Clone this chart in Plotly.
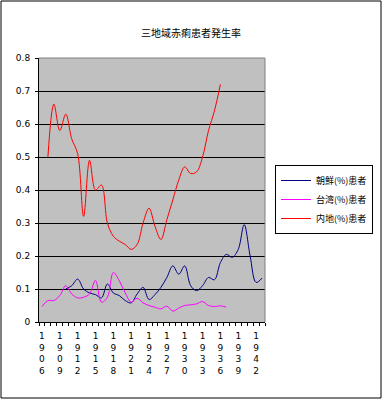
import plotly.graph_objects as go

years = [1906, 1907, 1908, 1909, 1910, 1911, 1912, 1913, 1914, 1915,
         1916, 1917, 1918, 1919, 1920, 1921, 1922, 1923, 1924, 1925,
         1926, 1927, 1928, 1929, 1930, 1931, 1932, 1933, 1934, 1935,
         1936, 1937, 1938, 1939, 1940, 1941, 1942, 1943]

korea = [None, None, None, None, 0.10, 0.11, 0.13, 0.10, 0.088, 0.083,
         0.073, 0.115, 0.088, 0.08, 0.065, 0.058, 0.085, 0.105, 0.068, 0.083,
         0.105, 0.135, 0.17, 0.145, 0.17, 0.11, 0.095, 0.11, 0.135, 0.128,
         0.18, 0.205, 0.196, 0.22, 0.295, 0.20, 0.12, 0.133]

taiwan = [0.047, 0.065, 0.065, 0.08, 0.11, 0.085, 0.073, 0.075, 0.085, 0.126,
          0.06, 0.075, 0.15, 0.125, 0.088, 0.06, 0.072, 0.058, 0.05, 0.045,
          0.04, 0.048, 0.033, 0.042, 0.05, 0.052, 0.055, 0.062, 0.05, 0.047,
          0.049, 0.045, None, None, None, None, None, None]

naichi = [None, 0.50, 0.66, 0.58, 0.63, 0.555, 0.51, 0.32, 0.49, 0.40,
          0.415, 0.30, 0.26, 0.245, 0.235, 0.22, 0.235, 0.30, 0.345, 0.29,
          0.25, 0.31, 0.37, 0.43, 0.47, 0.45, 0.455, 0.50, 0.58, 0.64,
          0.72, None, None, None, None, None, None, None]

series_names = ["朝鮮(%)患者", "台湾(%)患者", "内地(%)患者"]
series_colors = ["#000080", "#FF00FF", "#FF0000"]
label_years = years[::3]

FONT = "Noto Sans CJK JP, Noto Sans, sans-serif"

fig = go.Figure()
for name, vals, col in zip(series_names, [korea, taiwan, naichi], series_colors):
    fig.add_trace(go.Scatter(
        x=list(range(len(years))), y=vals, name=name, mode="lines",
        line=dict(color=col, width=1, shape="spline", smoothing=1),
        connectgaps=False,
    ))

W, H = 385, 404
L, R, T, B = 39, 120, 58, 82
pw, ph = W - L - R, H - T - B

def px_x(p):
    return (p - L) / pw

def px_y(p):
    return (H - B - p) / ph

fig.update_layout(
    width=W, height=H,
    margin=dict(l=L, r=R, t=T, b=B, autoexpand=False),
    paper_bgcolor="white",
    plot_bgcolor="#C0C0C0",
    font=dict(family=FONT, size=9, color="black"),
    showlegend=True,
    legend=dict(
        x=px_x(275), y=px_y(165), xanchor="left", yanchor="top",
        bordercolor="black", borderwidth=1, bgcolor="white",
        font=dict(size=9, family=FONT), itemwidth=30,
        tracegroupgap=0,
    ),
    xaxis=dict(
        range=[-0.5, len(years) - 0.5],
        tickmode="array",
        tickvals=[years.index(y) for y in label_years],
        ticktext=["<br>".join(str(y)) for y in label_years],
        ticks="", showgrid=False, zeroline=False,
        showline=True, linecolor="black", linewidth=1,
        tickfont=dict(size=9, family="DejaVu Sans"),
        ticklabelstandoff=5,
        minor=dict(ticks="outside", ticklen=3, tickcolor="black",
                   tick0=-0.5, dtick=1, showgrid=False),
        automargin=False,
        fixedrange=True,
    ),
    yaxis=dict(
        range=[0, 0.8], dtick=0.1, tick0=0,
        showgrid=True, gridcolor="black", gridwidth=1,
        zeroline=False, showline=True, linecolor="black", linewidth=1,
        ticks="outside", ticklen=3, tickcolor="black",
        tickfont=dict(size=9, family="DejaVu Sans"),
        ticklabelstandoff=3,
        automargin=False,
        fixedrange=True,
    ),
    shapes=[
        dict(type="line", xref="paper", yref="paper", x0=0, x1=1, y0=1, y1=1,
             line=dict(color="#808080", width=1)),
        dict(type="line", xref="paper", yref="paper", x0=1, x1=1, y0=0, y1=1,
             line=dict(color="#808080", width=1)),
        dict(type="rect", xref="paper", yref="paper",
             x0=px_x(1), x1=px_x(381), y0=px_y(398), y1=px_y(1),
             line=dict(color="black", width=1)),
    ],
    annotations=[
        dict(text="三地域赤痢患者発生率", xref="paper", yref="paper",
             x=px_x(191), y=px_y(33), xanchor="center", yanchor="middle",
             showarrow=False, font=dict(size=10, family=FONT)),
    ],
)

fig.write_html(
    "out.html",
    config={"displayModeBar": False},
    post_script="document.body.style.margin='0';document.body.style.padding='0';",
)
